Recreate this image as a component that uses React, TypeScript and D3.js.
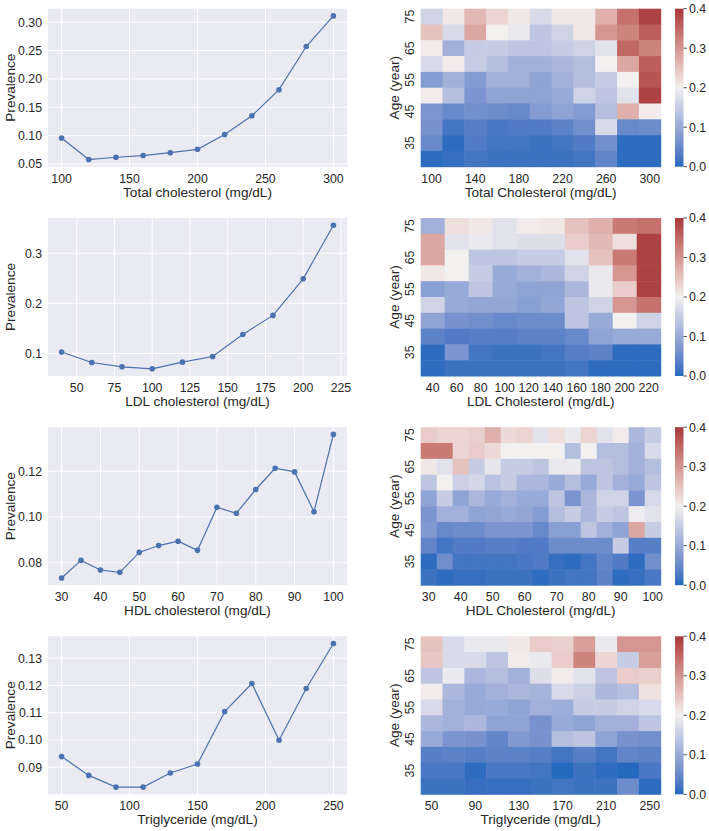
import React from "react";
import * as d3 from "d3";

const FONT = "'Liberation Sans', Arial, Helvetica, sans-serif";
const TEXT = "#262626";
const LINE = "#4C72B0";
const BG = "#EAEAF2";

// ---------- line-chart data ----------
const tcX = [100, 120, 140, 160, 180, 200, 220, 240, 260, 280, 300];
const tcY = [0.096, 0.058, 0.062, 0.065, 0.07, 0.076, 0.102, 0.135, 0.181, 0.257, 0.311];
const tcXTicks = [100, 150, 200, 250, 300];
const tcYTicks = [0.05, 0.1, 0.15, 0.2, 0.25, 0.3];

const ldlX = [40, 60, 80, 100, 120, 140, 160, 180, 200, 220];
const ldlY = [0.103, 0.082, 0.0734, 0.0694, 0.0827, 0.094, 0.138, 0.176, 0.249, 0.356];
const ldlXTicks = [50, 75, 100, 125, 150, 175, 200, 225];
const ldlYTicks = [0.1, 0.2, 0.3];

const hdlX = [30, 35, 40, 45, 50, 55, 60, 65, 70, 75, 80, 85, 90, 95, 100];
const hdlY = [0.0733, 0.081, 0.0768, 0.0758, 0.0845, 0.0875, 0.0894, 0.0854, 0.1042, 0.1016, 0.112, 0.1213, 0.1197, 0.1023, 0.1361];
const hdlXTicks = [30, 40, 50, 60, 70, 80, 90, 100];
const hdlYTicks = [0.08, 0.1, 0.12];

const tgX = [50, 70, 90, 110, 130, 150, 170, 190, 210, 230, 250];
const tgY = [0.0939, 0.087, 0.0827, 0.0827, 0.0879, 0.0912, 0.1104, 0.1207, 0.0999, 0.1189, 0.1354];
const tgXTicks = [50, 100, 150, 200, 250];
const tgYTicks = [0.09, 0.1, 0.11, 0.12, 0.13];

// ---------- heatmap data ----------
const ages = [75, 70, 65, 60, 55, 50, 45, 40, 35, 30];
const ageTicks = [75, 65, 55, 45, 35];
const cbTicks = [0, 0.1, 0.2, 0.3, 0.4];

const tcCols = [100, 120, 140, 160, 180, 200, 220, 240, 260, 280, 300];
const tcColTicks = [100, 140, 180, 220, 260, 300];
const tcHeat = [
  [0.16, 0.21, 0.26, 0.23, 0.21, 0.17, 0.21, 0.21, 0.27, 0.34, 0.39],
  [0.25, 0.17, 0.28, 0.2, 0.19, 0.14, 0.16, 0.21, 0.3, 0.32, 0.36],
  [0.205, 0.11, 0.15, 0.15, 0.14, 0.14, 0.15, 0.16, 0.18, 0.35, 0.32],
  [0.17, 0.205, 0.15, 0.13, 0.11, 0.11, 0.12, 0.13, 0.2, 0.28, 0.36],
  [0.08, 0.11, 0.08, 0.11, 0.11, 0.09, 0.11, 0.13, 0.15, 0.2, 0.37],
  [0.205, 0.13, 0.07, 0.09, 0.09, 0.09, 0.1, 0.16, 0.14, 0.18, 0.39],
  [0.07, 0.05, 0.06, 0.055, 0.05, 0.08, 0.09, 0.08, 0.13, 0.27, 0.205],
  [0.065, 0.02, 0.035, 0.025, 0.03, 0.03, 0.04, 0.06, 0.17, 0.05, 0.055],
  [0.05, 0.005, 0.03, 0.02, 0.02, 0.015, 0.02, 0.03, 0.06, 0.005, 0.005],
  [0.005, 0.01, 0.02, 0.015, 0.015, 0.015, 0.015, 0.02, 0.045, 0.005, 0.005],
];

const ldlCols = [40, 60, 80, 100, 120, 140, 160, 180, 200, 220];
const ldlColTicks = [40, 60, 80, 100, 120, 140, 160, 180, 200, 220];
const ldlHeat = [
  [0.11, 0.22, 0.21, 0.18, 0.205, 0.21, 0.25, 0.27, 0.33, 0.34],
  [0.28, 0.18, 0.19, 0.18, 0.175, 0.175, 0.24, 0.26, 0.22, 0.39],
  [0.28, 0.2, 0.14, 0.14, 0.15, 0.15, 0.18, 0.25, 0.33, 0.39],
  [0.21, 0.2, 0.15, 0.1, 0.11, 0.12, 0.16, 0.19, 0.3, 0.39],
  [0.085, 0.1, 0.14, 0.1, 0.09, 0.09, 0.12, 0.19, 0.24, 0.39],
  [0.16, 0.1, 0.095, 0.095, 0.085, 0.095, 0.14, 0.16, 0.3, 0.34],
  [0.09, 0.065, 0.06, 0.05, 0.055, 0.055, 0.14, 0.1, 0.2, 0.16],
  [0.04, 0.03, 0.035, 0.035, 0.04, 0.04, 0.05, 0.09, 0.1, 0.1],
  [0.005, 0.07, 0.02, 0.015, 0.015, 0.02, 0.035, 0.04, 0.005, 0.005],
  [0.005, 0.015, 0.015, 0.015, 0.015, 0.015, 0.02, 0.005, 0.005, 0.005],
];

const hdlCols = [30, 35, 40, 45, 50, 55, 60, 65, 70, 75, 80, 85, 90, 95, 100];
const hdlColTicks = [30, 40, 50, 60, 70, 80, 90, 100];
const hdlHeat = [
  [0.24, 0.23, 0.23, 0.235, 0.27, 0.225, 0.23, 0.18, 0.22, 0.19, 0.23, 0.18, 0.205, 0.12, 0.15],
  [0.33, 0.33, 0.23, 0.24, 0.225, 0.2, 0.2, 0.2, 0.2, 0.13, 0.2, 0.13, 0.13, 0.11, 0.17],
  [0.21, 0.18, 0.25, 0.15, 0.185, 0.15, 0.15, 0.14, 0.19, 0.19, 0.14, 0.14, 0.13, 0.11, 0.13],
  [0.14, 0.2, 0.155, 0.165, 0.135, 0.15, 0.12, 0.12, 0.1, 0.13, 0.1, 0.14, 0.11, 0.1, 0.14],
  [0.09, 0.15, 0.09, 0.12, 0.1, 0.11, 0.1, 0.1, 0.14, 0.07, 0.12, 0.16, 0.16, 0.07, 0.17],
  [0.07, 0.11, 0.11, 0.09, 0.095, 0.1, 0.095, 0.08, 0.13, 0.15, 0.12, 0.15, 0.14, 0.195, 0.18],
  [0.075, 0.05, 0.055, 0.055, 0.07, 0.07, 0.07, 0.05, 0.085, 0.085, 0.14, 0.11, 0.09, 0.28, 0.15],
  [0.045, 0.02, 0.03, 0.03, 0.035, 0.035, 0.03, 0.03, 0.055, 0.055, 0.055, 0.055, 0.15, 0.035, 0.035],
  [0.005, 0.06, 0.02, 0.02, 0.02, 0.02, 0.025, 0.03, 0.01, 0.005, 0.02, 0.045, 0.03, 0.005, 0.06],
  [0.015, 0.005, 0.01, 0.01, 0.015, 0.015, 0.015, 0.005, 0.015, 0.02, 0.02, 0.04, 0.005, 0.01, 0.025],
];

const tgCols = [50, 70, 90, 110, 130, 150, 170, 190, 210, 230, 250];
const tgColTicks = [50, 90, 130, 170, 210, 250];
const tgHeat = [
  [0.25, 0.17, 0.19, 0.19, 0.21, 0.24, 0.235, 0.29, 0.19, 0.3, 0.3],
  [0.245, 0.17, 0.17, 0.14, 0.205, 0.19, 0.24, 0.32, 0.23, 0.15, 0.29],
  [0.14, 0.19, 0.12, 0.13, 0.11, 0.175, 0.205, 0.18, 0.14, 0.24, 0.235],
  [0.205, 0.12, 0.1, 0.11, 0.12, 0.115, 0.17, 0.155, 0.12, 0.13, 0.215],
  [0.17, 0.11, 0.1, 0.1, 0.09, 0.11, 0.105, 0.15, 0.15, 0.16, 0.17],
  [0.12, 0.11, 0.12, 0.09, 0.09, 0.065, 0.1, 0.09, 0.11, 0.11, 0.14],
  [0.1, 0.07, 0.065, 0.045, 0.075, 0.065, 0.13, 0.14, 0.09, 0.065, 0.06],
  [0.035, 0.04, 0.035, 0.04, 0.04, 0.035, 0.02, 0.035, 0.02, 0.045, 0.04],
  [0.025, 0.025, 0.005, 0.025, 0.025, 0.02, 0.0, 0.015, 0.005, 0.0, 0.025],
  [0.015, 0.015, 0.01, 0.01, 0.01, 0.015, 0.02, 0.015, 0.015, 0.055, 0.005],
];

// ---------- layout ----------
const ROW_TOPS = [8.7, 218, 427.2, 636.3];
const PH = 158;
const LX0 = 48, LX1 = 347;
const HX0 = 420.7, HX1 = 660.7;
const CBX0 = 675, CBX1 = 683.5;
const TICK_FS = 12.3;
const LAB_FS = 13.6;

const colorScale = d3
  .scaleLinear<string>()
  .domain([0, 0.2, 0.4])
  .range(["#2369bd", "#f3f0f0", "#a9373b"])
  .interpolate(d3.interpolateLab)
  .clamp(true);

function LinePanel({ top, xs, ys, xTicks, yTicks, yFmt, xLabel }: any) {
  const xmin = d3.min(xs) as number, xmax = d3.max(xs) as number;
  const ymin = d3.min(ys) as number, ymax = d3.max(ys) as number;
  const xm = (xmax - xmin) * 0.05, ym = (ymax - ymin) * 0.05;
  const x = d3.scaleLinear().domain([xmin - xm, xmax + xm]).range([LX0, LX1]);
  const y = d3.scaleLinear().domain([ymin - ym, ymax + ym]).range([top + PH, top]);
  const pts = xs.map((v: number, i: number) => [x(v), y(ys[i])] as [number, number]);
  const path = d3.line()(pts) || "";
  const fmt = d3.format(yFmt);
  return (
    <g>
      <rect x={LX0} y={top} width={LX1 - LX0} height={PH} fill={BG} />
      {xTicks.map((t: number) => (
        <line key={"gx" + t} x1={x(t)} x2={x(t)} y1={top} y2={top + PH} stroke="#fff" strokeWidth={1} />
      ))}
      {yTicks.map((t: number) => (
        <line key={"gy" + t} x1={LX0} x2={LX1} y1={y(t)} y2={y(t)} stroke="#fff" strokeWidth={1} />
      ))}
      <path d={path} fill="none" stroke={LINE} strokeWidth={1.2} />
      {pts.map((p: [number, number], i: number) => (
        <circle key={i} cx={p[0]} cy={p[1]} r={2.8} fill={LINE} />
      ))}
      {xTicks.map((t: number) => (
        <text key={"tx" + t} x={x(t)} y={top + PH + 15.8} textAnchor="middle" fontSize={TICK_FS} fill={TEXT}>
          {t}
        </text>
      ))}
      {yTicks.map((t: number) => (
        <text key={"ty" + t} x={42} y={y(t) + 4.4} textAnchor="end" fontSize={TICK_FS} fill={TEXT}>
          {fmt(t)}
        </text>
      ))}
      <text x={(LX0 + LX1) / 2} y={top + PH + 30} textAnchor="middle" fontSize={LAB_FS} fill={TEXT}>
        {xLabel}
      </text>
      <text
        transform={`translate(14.5,${top + PH / 2}) rotate(-90)`}
        textAnchor="middle"
        fontSize={LAB_FS}
        fill={TEXT}
      >
        Prevalence
      </text>
    </g>
  );
}

function HeatPanel({ top, cols, colTicks, matrix, xLabel, id }: any) {
  const xb = d3.scaleBand<number>().domain(cols).range([HX0, HX1]);
  const yb = d3.scaleBand<number>().domain(ages).range([top, top + PH]);
  const cb = d3.scaleLinear().domain([0, 0.4]).range([top + PH, top]);
  const stops = d3.range(0, 1.0001, 0.05);
  return (
    <g>
      <defs>
        <linearGradient id={id} x1="0" y1="1" x2="0" y2="0">
          {stops.map((s: number) => (
            <stop key={s} offset={s} stopColor={colorScale(s * 0.4)} />
          ))}
        </linearGradient>
      </defs>
      {matrix.map((row: number[], ri: number) =>
        row.map((v: number, ci: number) => (
          <rect
            key={ri + "-" + ci}
            x={xb(cols[ci])}
            y={yb(ages[ri])}
            width={xb.bandwidth() + 0.5}
            height={yb.bandwidth() + 0.5}
            fill={colorScale(v)}
          />
        ))
      )}
      {colTicks.map((t: number) => (
        <text
          key={"hx" + t}
          x={(xb(t) as number) + xb.bandwidth() / 2}
          y={top + PH + 15.8}
          textAnchor="middle"
          fontSize={TICK_FS}
          fill={TEXT}
        >
          {t}
        </text>
      ))}
      {ageTicks.map((a: number) => (
        <text
          key={"hy" + a}
          transform={`translate(413.5,${(yb(a) as number) + yb.bandwidth() / 2}) rotate(-90)`}
          textAnchor="middle"
          fontSize={TICK_FS}
          fill={TEXT}
        >
          {a}
        </text>
      ))}
      <text x={(HX0 + HX1) / 2} y={top + PH + 30} textAnchor="middle" fontSize={LAB_FS} fill={TEXT}>
        {xLabel}
      </text>
      <text
        transform={`translate(399,${top + PH / 2}) rotate(-90)`}
        textAnchor="middle"
        fontSize={LAB_FS}
        fill={TEXT}
      >
        Age (year)
      </text>
      <rect x={CBX0} y={top} width={CBX1 - CBX0} height={PH} fill={`url(#${id})`} />
      {cbTicks.map((t: number) => (
        <g key={"cb" + t}>
          <line x1={CBX1} x2={CBX1 + 3.5} y1={cb(t)} y2={cb(t)} stroke={TEXT} strokeWidth={0.8} />
          <text x={CBX1 + 5.5} y={cb(t) + 4.4} fontSize={TICK_FS} fill={TEXT}>
            {d3.format(".1f")(t)}
          </text>
        </g>
      ))}
    </g>
  );
}

export default function App() {
  return (
    <svg
      width={709}
      height={831}
      viewBox="0 0 709 831"
      style={{ position: "absolute", left: 0, top: 0, background: "#fff", fontFamily: FONT }}
    >
      <rect x={0} y={0} width={709} height={831} fill="#fff" />
      <LinePanel top={ROW_TOPS[0]} xs={tcX} ys={tcY} xTicks={tcXTicks} yTicks={tcYTicks} yFmt=".2f" xLabel="Total cholesterol (mg/dL)" />
      <LinePanel top={ROW_TOPS[1]} xs={ldlX} ys={ldlY} xTicks={ldlXTicks} yTicks={ldlYTicks} yFmt=".1f" xLabel="LDL cholesterol (mg/dL)" />
      <LinePanel top={ROW_TOPS[2]} xs={hdlX} ys={hdlY} xTicks={hdlXTicks} yTicks={hdlYTicks} yFmt=".2f" xLabel="HDL cholesterol (mg/dL)" />
      <LinePanel top={ROW_TOPS[3]} xs={tgX} ys={tgY} xTicks={tgXTicks} yTicks={tgYTicks} yFmt=".2f" xLabel="Triglyceride (mg/dL)" />
      <HeatPanel id="g1" top={ROW_TOPS[0]} cols={tcCols} colTicks={tcColTicks} matrix={tcHeat} xLabel="Total Cholesterol (mg/dL)" />
      <HeatPanel id="g2" top={ROW_TOPS[1]} cols={ldlCols} colTicks={ldlColTicks} matrix={ldlHeat} xLabel="LDL Cholesterol (mg/dL)" />
      <HeatPanel id="g3" top={ROW_TOPS[2]} cols={hdlCols} colTicks={hdlColTicks} matrix={hdlHeat} xLabel="HDL Cholesterol (mg/dL)" />
      <HeatPanel id="g4" top={ROW_TOPS[3]} cols={tgCols} colTicks={tgColTicks} matrix={tgHeat} xLabel="Triglyceride (mg/dL)" />
    </svg>
  );
}
